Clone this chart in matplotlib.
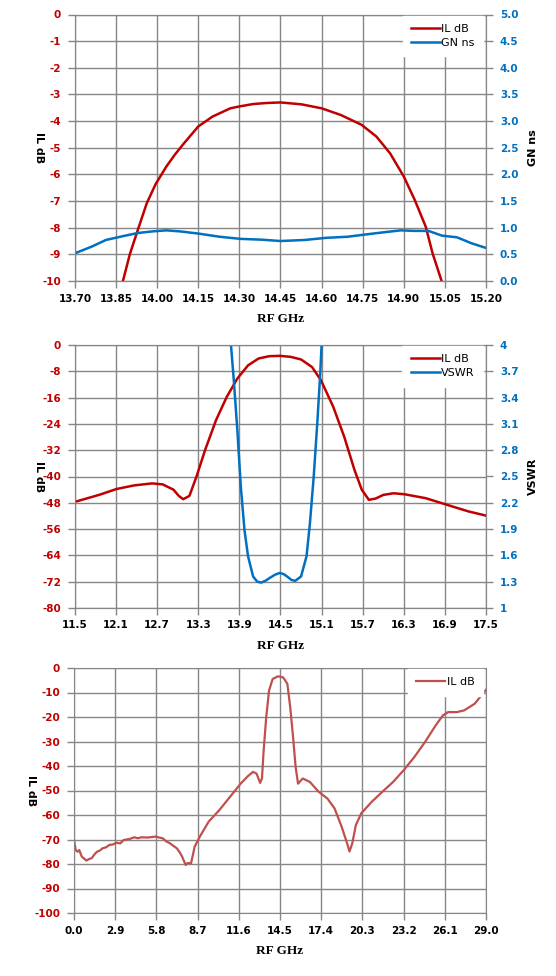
import numpy as np
import matplotlib.pyplot as plt

RED = "#C00000"
RED3 = "#C0504D"
BLUE = "#0070C0"
GRID = "#868686"

# ---- panel 1: passband IL and group delay
f1 = [13.875, 13.90, 13.929, 13.962, 13.994, 14.033, 14.065, 14.098, 14.15, 14.202,
      14.267, 14.30, 14.35, 14.40, 14.45, 14.526, 14.60, 14.67, 14.746, 14.80,
      14.85, 14.90, 14.94, 14.98, 15.005, 15.038]
il1 = [-10.0, -9.0, -8.09, -7.08, -6.37, -5.71, -5.25, -4.83, -4.20, -3.83,
       -3.52, -3.45, -3.36, -3.32, -3.30, -3.37, -3.52, -3.77, -4.14, -4.58,
       -5.21, -6.08, -6.96, -7.96, -8.96, -10.0]
fg = [13.70, 13.761, 13.813, 13.878, 13.929, 13.981, 14.033, 14.085, 14.15, 14.228,
      14.305, 14.383, 14.45, 14.539, 14.617, 14.694, 14.772, 14.837, 14.889, 14.94,
      14.99, 15.04, 15.094, 15.146, 15.20]
gn = [0.52, 0.645, 0.77, 0.845, 0.90, 0.93, 0.95, 0.93, 0.89, 0.83,
      0.79, 0.775, 0.75, 0.77, 0.81, 0.83, 0.88, 0.92, 0.95, 0.94,
      0.94, 0.85, 0.82, 0.71, 0.62]

# ---- panel 2: IL and VSWR around band
f2 = [11.5, 11.85, 12.107, 12.366, 12.625, 12.78, 12.937, 13.02, 13.08, 13.17,
      13.274, 13.40, 13.56, 13.715, 13.87, 14.026, 14.18, 14.337, 14.49, 14.648,
      14.80, 14.96, 15.09, 15.27, 15.43, 15.58, 15.686, 15.79, 15.89, 16.0,
      16.15, 16.31, 16.62, 16.93, 17.24, 17.5]
il2 = [-47.7, -45.6, -43.8, -42.7, -42.1, -42.4, -44.0, -46.0, -46.9, -45.9,
       -40.0, -31.9, -22.8, -15.8, -10.2, -6.2, -4.1, -3.4, -3.3, -3.6,
       -4.4, -6.7, -10.7, -18.8, -27.9, -38.0, -44.0, -47.1, -46.7, -45.6,
       -45.1, -45.4, -46.6, -48.6, -50.6, -51.9]
fv = [13.765, 13.777, 13.818, 13.87, 13.92, 13.974, 14.026, 14.10, 14.16, 14.218,
      14.28, 14.337, 14.42, 14.49, 14.55, 14.596, 14.66, 14.716, 14.80, 14.88,
      14.93, 14.985, 15.037, 15.08, 15.10, 15.11]
vswr = [4.4, 4.0, 3.6, 3.03, 2.39, 1.89, 1.59, 1.36, 1.30, 1.29,
        1.31, 1.34, 1.38, 1.40, 1.385, 1.36, 1.32, 1.31, 1.36, 1.59,
        1.97, 2.50, 3.11, 3.67, 4.0, 4.3]

# ---- panel 3: wideband IL
f3 = [0.0, 0.12, 0.25, 0.37, 0.55, 0.87, 1.05, 1.25, 1.45, 1.62, 1.85, 2.0, 2.25,
      2.5, 2.75, 3.0, 3.25, 3.5, 3.9, 4.24, 4.5, 4.74, 5.2, 5.74, 6.0, 6.24,
      6.5, 6.74, 7.0, 7.24, 7.45, 7.61, 7.86, 8.0, 8.24, 8.49, 8.86, 9.48,
      10.23, 10.98, 11.73, 12.23, 12.60, 12.85, 13.1, 13.23, 13.35, 13.53,
      13.73, 13.98, 14.35, 14.72, 15.02, 15.22, 15.42, 15.6, 15.77, 16.1,
      16.6, 17.22, 17.84, 18.34, 18.84, 19.22, 19.39, 19.59, 19.84, 20.22,
      20.96, 21.71, 22.46, 23.21, 23.96, 24.71, 25.46, 25.96, 26.33, 26.96,
      27.46, 28.2, 29.0]
il3 = [-70.2, -74.3, -75.0, -74.3, -77.0, -78.6, -78.0, -77.6, -76.0, -75.0, -74.4, -73.6, -73.2,
       -72.2, -72.0, -71.3, -71.6, -70.2, -69.8, -69.1, -69.5, -69.1, -69.2, -68.8, -69.2, -69.5,
       -70.8, -71.5, -72.6, -73.6, -75.3, -77.0, -80.4, -79.6, -79.7, -73.0, -68.8, -62.7,
       -58.0, -52.6, -47.2, -44.2, -42.4, -43.1, -46.9, -45.1, -33.6, -20.1,
       -9.2, -4.5, -3.4, -3.8, -6.5, -16.0, -28.2, -40.4, -47.2, -45.1,
       -46.5, -50.5, -53.3, -57.3, -64.8, -71.5, -74.9, -71.5, -64.1, -59.3,
       -54.6, -50.5, -46.5, -41.7, -36.3, -30.2, -23.4, -19.4, -18.0, -18.0,
       -17.3, -14.6, -8.9]

plt.rcParams['font.family'] = ['DejaVu Sans']
fig = plt.figure(figsize=(5.56, 9.76), dpi=100)

pos = [[75 / 556, 1 - 281 / 976, 411 / 556, 266.5 / 976],
       [75 / 556, 1 - 608 / 976, 411 / 556, 263 / 976],
       [74 / 556, 1 - 913 / 976, 412 / 556, 245 / 976]]

xlab_font = dict(family='Liberation Serif', weight='bold', size=9.5)
ylab_font = dict(family='DejaVu Sans', weight='bold', size=8)
leg_kw = dict(frameon=True, fancybox=False, edgecolor='white', framealpha=1,
              fontsize=8, handlelength=2.6, handletextpad=0.15, borderpad=0.75,
              labelspacing=0.35, borderaxespad=0)


def style_ax(ax, xticks, xlabels, yticks, ylabels):
    ax.set_xticks(xticks)
    ax.set_xticklabels(xlabels, fontweight='bold')
    ax.set_yticks(yticks)
    ax.set_yticklabels(ylabels, fontweight='bold')
    ax.tick_params(axis='both', labelsize=7.5, color=GRID, length=5, width=1, direction='out')
    ax.tick_params(axis='y', labelcolor=RED, pad=5)
    ax.tick_params(axis='x', labelcolor='black', pad=4)
    ax.grid(True, color=GRID, linewidth=1)
    ax.set_axisbelow(True)
    for s in ax.spines.values():
        s.set_color(GRID)
    ax.set_xlabel('RF GHz', fontdict=xlab_font, labelpad=7)
    ax.set_ylabel('IL dB', fontdict=ylab_font, labelpad=6, rotation=270)


def style_right(ax2, yticks, ylabels, label):
    ax2.set_yticks(yticks)
    ax2.set_yticklabels(ylabels, fontweight='bold')
    ax2.tick_params(axis='y', labelsize=7.5, color=GRID, length=5, width=1,
                    direction='out', labelcolor=BLUE, pad=5)
    for s in ax2.spines.values():
        s.set_color(GRID)
    ax2.set_ylabel(label, fontdict=ylab_font, labelpad=7, rotation=90)


# panel 1
ax = fig.add_axes(pos[0])
xt = np.round(np.arange(13.70, 15.201, 0.15), 2)
yt = np.arange(-10, 1, 1)
ax.set_xlim(13.70, 15.20)
ax.set_ylim(-10, 0)
style_ax(ax, xt, ['%.2f' % v for v in xt], yt, ['%d' % v for v in yt])
l1, = ax.plot(f1, il1, color=RED, lw=1.8)
ax2 = ax.twinx()
ax2.set_ylim(0, 5)
yt2 = np.arange(0, 5.01, 0.5)
style_right(ax2, yt2, ['%.1f' % v for v in yt2], 'GN ns')
l2, = ax2.plot(fg, gn, color=BLUE, lw=1.8)
ax2.legend([l1, l2], ['IL dB', 'GN ns'], loc='upper right',
           bbox_to_anchor=(0.993, 0.996), **leg_kw)

# panel 2
ax = fig.add_axes(pos[1])
xt = np.round(np.arange(11.5, 17.51, 0.6), 1)
yt = np.arange(-80, 1, 8)
ax.set_xlim(11.5, 17.5)
ax.set_ylim(-80, 0)
style_ax(ax, xt, ['%.1f' % v for v in xt], yt, ['%d' % v for v in yt])
l1, = ax.plot(f2, il2, color=RED, lw=1.8)
ax2 = ax.twinx()
ax2.set_ylim(1, 4)
yt2 = np.round(np.arange(1, 4.01, 0.3), 1)
style_right(ax2, yt2, ['%g' % v for v in yt2], 'VSWR')
l2, = ax2.plot(fv, vswr, color=BLUE, lw=1.8)
ax2.legend([l1, l2], ['IL dB', 'VSWR'], loc='upper right',
           bbox_to_anchor=(0.993, 0.996), **leg_kw)

# panel 3
ax = fig.add_axes(pos[2])
xt = np.round(np.arange(0, 29.01, 2.9), 1)
yt = np.arange(-100, 1, 10)
ax.set_xlim(0, 29)
ax.set_ylim(-100, 0)
style_ax(ax, xt, ['%.1f' % v for v in xt], yt, ['%d' % v for v in yt])
ax.plot(f3, il3, color=RED3, lw=1.6, label='IL dB')
ax.legend(loc='upper right', bbox_to_anchor=(0.993, 0.996), **leg_kw)

fig.savefig('out.png', dpi=100)
